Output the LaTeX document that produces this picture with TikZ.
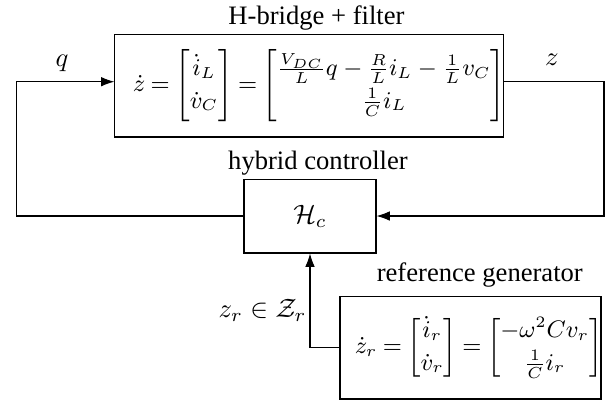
\documentclass[tikz,border=0pt]{standalone}
\usepackage{amsmath}
\usepackage{amsfonts}
\usepackage{fontspec}
\setmainfont{Liberation Serif}
\usetikzlibrary{positioning,arrows.meta}
\newcommand{\tightEq}{\thickmuskip=4mu\relax}

\begin{document}
\begin{tikzpicture}[x=0.3759pt,y=-0.3759pt,
    block/.style={draw=black,line width=0.4pt,inner sep=0pt},
    eqn/.style={inner sep=0pt,anchor=east,font=\fontsize{9.2}{12.2}\selectfont},
    title/.style={inner sep=0pt},
    sig/.style={draw=black,line width=0.4pt,-{Latex[length=5pt,width=3.6pt]}}]
  \useasboundingbox (0,0) rectangle (610,402);
  % plant
  \node[block,minimum width=145.9pt,minimum height=38.7pt] (plant) at (309,85.5) {};
  \node[eqn,font=\fontsize{9.05}{12.2}\selectfont] (plantEq) at ([xshift=0.8pt]plant.east)
    {$\tightEq\dot z = \begin{bmatrix}\dot i_L\\ \dot v_C\end{bmatrix} =
      \begin{bmatrix}\frac{V_{DC}}{L}q - \frac{R}{L}i_L - \frac{1}{L}v_C\\
      \frac{1}{C}i_L\end{bmatrix}$};
  \node[title,above=1pt of plant.north,xshift=2.8pt] (plantName) {H-bridge + filter};
  % controller
  \node[block,minimum width=49.6pt,minimum height=27.8pt] (ctrl) at (310,216) {$\mathcal{H}_c$};
  \node[title,above=1pt of ctrl.north,xshift=3pt] (ctrlName) {hybrid controller};
  % reference
  \node[block,minimum width=98.1pt,minimum height=38.7pt] (refgen) at (470.5,347.5) {};
  \node[eqn] (refEq) at ([xshift=0.5pt]refgen.east)
    {$\tightEq\dot z_r = \begin{bmatrix}\dot i_r\\ \dot v_r\end{bmatrix} =
      \begin{bmatrix}-\omega^2 C v_r\\ \frac{1}{C}i_r\end{bmatrix}$};
  \node[title,above=3pt of refgen.north,xshift=3.5pt] (refName) {reference generator};

  % loop
  \coordinate (qcorner) at (16.7,81.7);
  \coordinate (zcorner) at (604,81.7);
  \draw[sig] (ctrl.west) -| (qcorner) -- (qcorner -| plant.west);
  \draw[sig] (zcorner -| plant.east) -- (zcorner) |- (ctrl.east);
  \draw[sig] (refgen.west) -| (ctrl.south);
  \node (qLbl) at (62,63) {$q$};
  \node (zLbl) at (552,60) {$z$};
  \node[anchor=east,inner sep=0pt] (zrLbl) at (307,310) {$z_r \in \mathcal{Z}_r$};
\end{tikzpicture}
\end{document}
